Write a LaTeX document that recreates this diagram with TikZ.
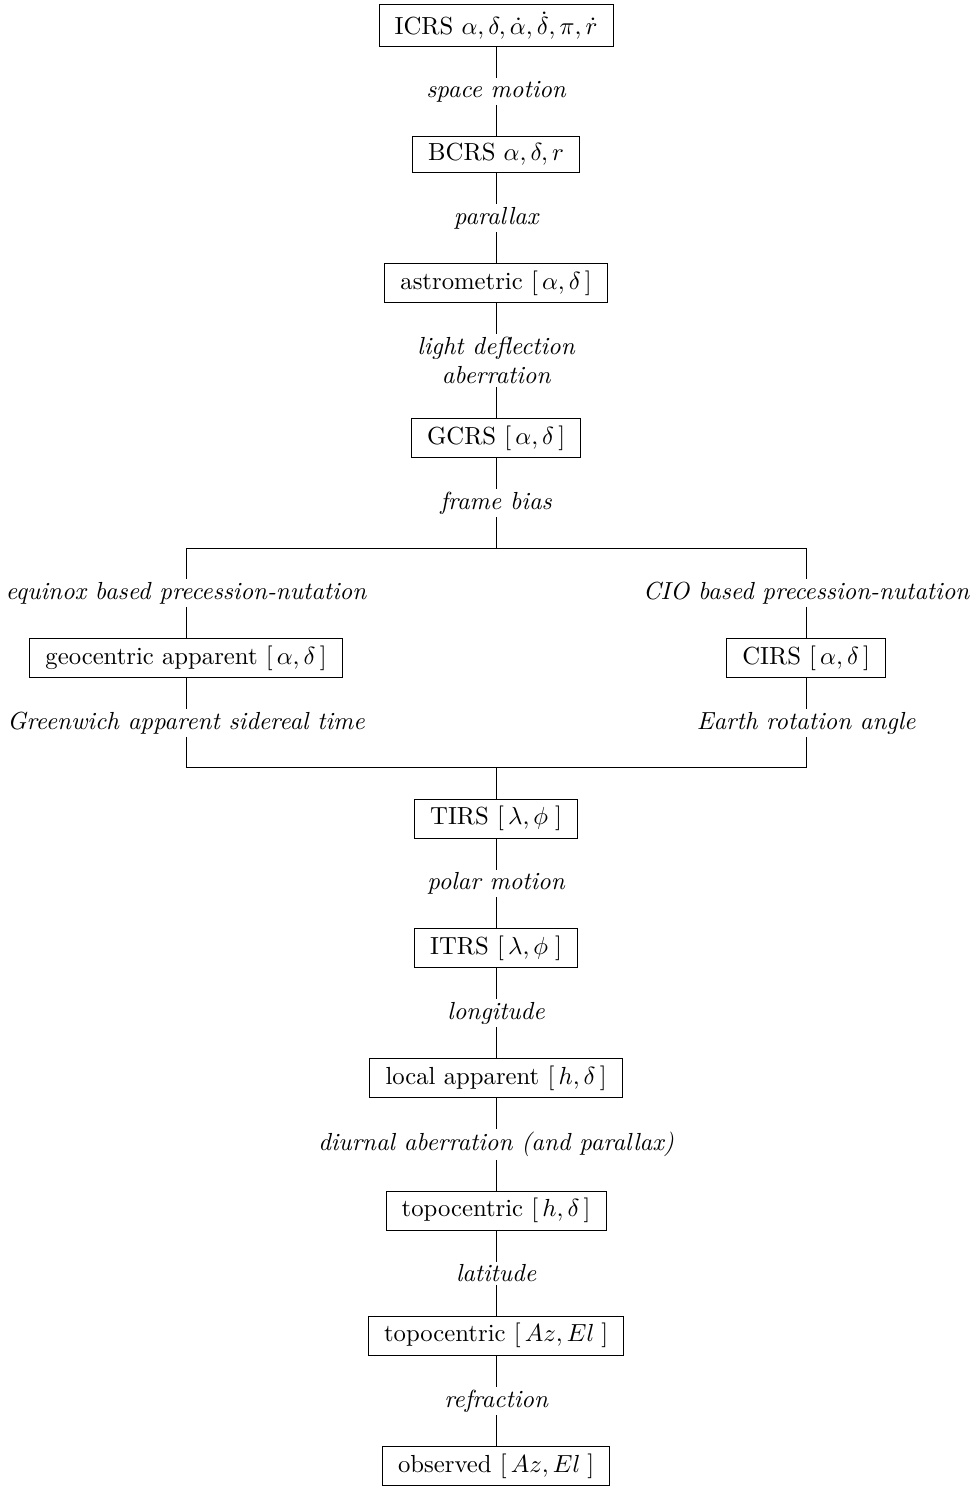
\documentclass[tikz,border=0pt]{standalone}
\usetikzlibrary{calc,positioning}

\begin{document}
\begin{tikzpicture}[
    frame/.style={draw=black, inner xsep=6.3pt, inner ysep=2.9pt},
    trans/.style={font=\itshape, align=center, inner ysep=1pt},
    node distance=12.5pt
  ]
  \node[frame] (icrs) {ICRS $\alpha, \delta, \dot{\alpha}, \dot{\delta}, \pi, \dot{r}$};
  \node[trans, below=of icrs] (spmot) {space motion};
  \node[frame, below=of spmot] (bcrs) {BCRS $\alpha, \delta, r$};
  \node[trans, below=of bcrs] (plx) {parallax};
  \node[frame, below=of plx] (astrom) {astrometric $[\,\alpha, \delta\,]$};
  \node[trans, below=of astrom] (ldab) {light deflection\\ aberration};
  \node[frame, below=of ldab] (gcrs) {GCRS $[\,\alpha, \delta\,]$};
  \node[trans, below=of gcrs] (fbias) {frame bias};
  \coordinate[below=of fbias] (split);

  % equinox branch
  \node[trans, below=of split, xshift=-125.5pt] (eqx) {equinox based precession-nutation};
  \node[frame, below=of eqx] (geoapp) {geocentric apparent $[\,\alpha, \delta\,]$};
  \node[trans, below=of geoapp] (gast) {Greenwich apparent sidereal time};

  % CIO branch
  \node[trans, below=of split, xshift=125.5pt] (cio) {CIO based precession-nutation};
  \node[frame, below=of cio] (cirs) {CIRS $[\,\alpha, \delta\,]$};
  \node[trans, below=of cirs] (era) {Earth rotation angle};

  \coordinate[below=of gast, xshift=125.5pt] (merge);
  \node[frame, below=of merge] (tirs) {TIRS $[\,\lambda, \phi\;]$};
  \node[trans, below=of tirs] (polmot) {polar motion};
  \node[frame, below=of polmot] (itrs) {ITRS $[\,\lambda, \phi\;]$};
  \node[trans, below=of itrs] (longi) {longitude};
  \node[frame, below=of longi] (locapp) {local apparent $[\,h, \delta\,]$};
  \node[trans, below=of locapp] (diurn) {diurnal aberration (and parallax)};
  \node[frame, below=of diurn] (tophd) {topocentric $[\,h, \delta\,]$};
  \node[trans, below=of tophd] (lat) {latitude};
  \node[frame, below=of lat] (topazel) {topocentric $[\,Az, El\;]$};
  \node[trans, below=of topazel] (refr) {refraction};
  \node[frame, below=of refr] (obs) {observed $[\,Az, El\;]$};

  \draw (icrs) -- (spmot) -- (bcrs) -- (plx) -- (astrom) -- (ldab) -- (gcrs) -- (fbias) -- (split);
  \draw (split -| eqx) -- (split -| cio);
  \draw (split -| eqx) -- (eqx) -- (geoapp) -- (gast) -- (gast |- merge) -- (era |- merge) -- (era);
  \draw (split -| cio) -- (cio) -- (cirs) -- (era);
  \draw (merge) -- (tirs) -- (polmot) -- (itrs) -- (longi) -- (locapp) -- (diurn) -- (tophd) -- (lat) -- (topazel) -- (refr) -- (obs);

  \pgfresetboundingbox
  \path ($(icrs.north)+(-200.8pt,1.6pt)$) rectangle ($(obs.south)+(192.3pt,0)$);
\end{tikzpicture}
\end{document}
